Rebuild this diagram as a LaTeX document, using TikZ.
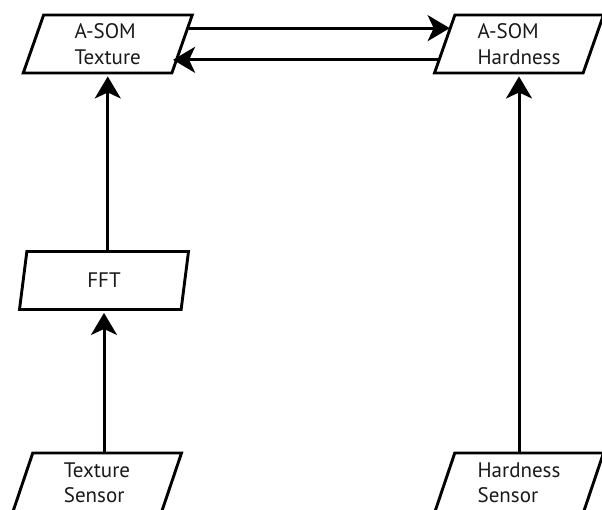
\documentclass[tikz,border=0pt]{standalone}
\usepackage{fontspec}
\setmainfont{PT Sans}
\usetikzlibrary{shapes.geometric,arrows.meta}
\begin{document}
\begin{tikzpicture}[x=1pt,y=-1pt,
  box/.style={draw=black, line width=2.9pt, trapezium, trapezium left angle=63.4,
    trapezium right angle=116.6, trapezium stretches body, minimum height=58pt,
    minimum width=169pt, inner sep=0pt, align=left,
    font=\fontsize{21}{25.5}\selectfont, text=black!90},
  arr/.style={line width=3pt, -{Stealth[length=22pt,width=26pt,inset=6pt]}}]
\useasboundingbox (0,0) rectangle (602,510);
\clip (0,0) rectangle (602,510);
\node[box] (tex) at (107.75,44) {A-SOM\\Texture};
\node[box] (has) at (519,44) {A-SOM\\Hardness};
\node[box] (fft) at (104,280.5) {FFT};
\node[box, minimum height=60pt] (tsen) at (97,483) {Texture\\Sensor};
\node[box, minimum height=60pt] (hsen) at (519,483) {Hardness\\Sensor};
\draw[arr] (tex.11.5) -- (tex.11.5 -| has.165.6);
\draw[arr, shorten >=-4pt] (has.191.7) -- (has.191.7 -| tex.345.5);
\draw[arr, shorten >=2pt] (tex.south |- fft.north) -- (tex.south);
\draw[arr, shorten >=2pt] (fft.south |- tsen.north) -- (fft.south);
\draw[arr, shorten >=2pt] (has.south |- hsen.north) -- (has.south);
\end{tikzpicture}
\end{document}
